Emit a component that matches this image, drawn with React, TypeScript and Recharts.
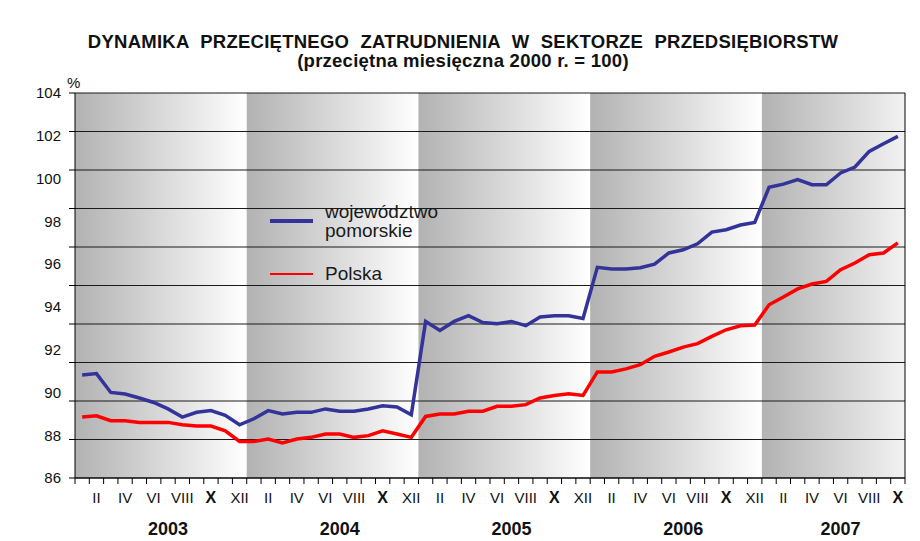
import React from 'react';
import { LineChart, Line, XAxis, YAxis, ReferenceArea, ReferenceLine, Legend } from 'recharts';

const FONT = '"Liberation Sans", Arial, sans-serif';

const years = ['2003', '2004', '2005', '2006', '2007'];
const monthsInYear = [12, 12, 12, 12, 10];
const romans = ['I', 'II', 'III', 'IV', 'V', 'VI', 'VII', 'VIII', 'IX', 'X', 'XI', 'XII'];

// województwo pomorskie, 2003 I .. 2007 X
const pomorskie = [
  90.82, 90.88, 90.0, 89.93, 89.74, 89.53, 89.23, 88.85, 89.07, 89.15, 88.93, 88.49,
  88.77, 89.15, 88.99, 89.07, 89.07, 89.23, 89.12, 89.12, 89.23, 89.38, 89.32, 88.96,
  93.32, 92.9, 93.32, 93.59, 93.27, 93.21, 93.32, 93.12, 93.53, 93.59, 93.59, 93.46,
  95.85, 95.77, 95.77, 95.83, 96.0, 96.52, 96.67, 96.95, 97.5, 97.61, 97.83, 97.95,
  99.59, 99.74, 99.95, 99.71, 99.71, 100.26, 100.54, 101.27, 101.63, 101.97,
];

// Polska
const polska = [
  88.85, 88.91, 88.68, 88.68, 88.6, 88.6, 88.6, 88.49, 88.43, 88.43, 88.21, 87.71,
  87.71, 87.82, 87.64, 87.82, 87.9, 88.06, 88.06, 87.9, 87.98, 88.21, 88.06, 87.9,
  88.88, 88.99, 88.99, 89.12, 89.12, 89.35, 89.35, 89.43, 89.74, 89.86, 89.94, 89.86,
  90.96, 90.96, 91.1, 91.3, 91.69, 91.89, 92.12, 92.28, 92.62, 92.93, 93.12, 93.15,
  94.1, 94.46, 94.84, 95.07, 95.19, 95.74, 96.05, 96.44, 96.52, 96.99,
];

// tick labels and grid lines don't line up in the original, so two scales on the same domain
const yLabels = [86, 88, 90, 92, 94, 96, 98, 100, 102, 104];
const gridTicks = [86, 87.8, 89.6, 91.4, 93.2, 95, 96.8, 98.6, 100.4, 102.2, 104];

type Row = { i: number; month: string; year: string; pom: number; pl: number };

const rows: Row[] = [];
years.forEach((year, y) => {
  for (let m = 0; m < monthsInYear[y]; m++) {
    const i = rows.length;
    rows.push({ i, month: romans[m], year, pom: pomorskie[i], pl: polska[i] });
  }
});

const n = rows.length;
const boundaryTicks = Array.from({ length: n + 1 }, (_, k) => k - 0.5);
const monthLabelTicks = rows.filter((r) => romans.indexOf(r.month) % 2 === 1).map((r) => r.i);

const yearSpans = years.map((year, y) => {
  const start = rows.findIndex((r) => r.year === year);
  const count = monthsInYear[y];
  return { year, start, end: start + count - 1, mid: start + Math.floor(count / 2), full: count === 12 };
});
const yearTicks = yearSpans.map((s) => s.mid);

const MonthTick = (props: any) => {
  const { x, y, payload } = props;
  const row = rows[payload.value];
  if (!row) return null;
  const bold = row.month === 'X';
  return (
    <text x={x} y={y} dy="0.71em" textAnchor="middle" fontSize={bold ? 16 : 15}
      fontWeight={bold ? 700 : 400} fill="#111" fontFamily={FONT}>
      {row.month}
    </text>
  );
};

const YearTick = (props: any) => {
  const { x, y, payload } = props;
  const row = rows[payload.value];
  if (!row) return null;
  return (
    <text x={x} y={y} dy="0.71em" textAnchor="middle" fontSize={18} fontWeight={700}
      fill="#111" fontFamily={FONT}>
      {row.year}
    </text>
  );
};

const LegendBox = () => (
  <div style={{ fontFamily: FONT, fontSize: 19, color: '#1a1a1a', lineHeight: '19px' }}>
    <div style={{ display: 'flex', alignItems: 'center' }}>
      <div style={{ width: 43, height: 4, background: '#333399', marginRight: 12 }} />
      <div>województwo<br />pomorskie</div>
    </div>
    <div style={{ display: 'flex', alignItems: 'center', marginTop: 24 }}>
      <div style={{ width: 43, height: 2, background: '#ff0000', marginRight: 12 }} />
      <div>Polska</div>
    </div>
  </div>
);

export default function App() {
  return (
    <div style={{ position: 'absolute', left: 0, top: 0, width: 920, height: 541, background: '#fff' }}>
      <div style={{ position: 'absolute', left: 0, top: 32, width: 926, textAlign: 'center',
        fontFamily: FONT, fontWeight: 700, fontSize: 18.5, lineHeight: '19px', color: '#111',
        letterSpacing: 0.25 }}>
        <div style={{ wordSpacing: 6 }}>DYNAMIKA PRZECIĘTNEGO ZATRUDNIENIA W SEKTORZE PRZEDSIĘBIORSTW</div>
        <div>(przeciętna miesięczna 2000 r. = 100)</div>
      </div>
      <div style={{ position: 'absolute', left: 67, top: 74, fontFamily: FONT, fontSize: 15, color: '#111' }}>%</div>
      <LineChart width={920} height={541} data={rows} margin={{ top: 93, right: 15, bottom: 0, left: 28 }}>
        <defs>
          <linearGradient id="bandFull" x1="0" y1="0" x2="1" y2="0">
            <stop offset="0%" stopColor="#b2b2b2" />
            <stop offset="100%" stopColor="#ffffff" />
          </linearGradient>
          <linearGradient id="bandPart" x1="0" y1="0" x2="1" y2="0">
            <stop offset="0%" stopColor="#b2b2b2" />
            <stop offset="100%" stopColor="#f2f2f2" />
          </linearGradient>
        </defs>
        <XAxis xAxisId={0} type="number" dataKey="i" domain={[-0.5, n - 0.5]} ticks={boundaryTicks}
          interval={0} tickFormatter={() => ''} height={6} tickSize={6} stroke="#000"
          tickLine={{ stroke: '#000' }} axisLine={{ stroke: '#000' }} />
        <XAxis xAxisId="m" type="number" dataKey="i" domain={[-0.5, n - 0.5]} ticks={monthLabelTicks}
          interval={0} tick={<MonthTick />} height={30} tickSize={0} tickMargin={8}
          axisLine={false} tickLine={false} />
        <XAxis xAxisId="y" type="number" dataKey="i" domain={[-0.5, n - 0.5]} ticks={yearTicks}
          interval={0} tick={<YearTick />} height={27} tickSize={0} tickMargin={8}
          axisLine={false} tickLine={false} />
        <YAxis yAxisId={0} type="number" domain={[86, 104]} ticks={gridTicks} interval={0}
          tickFormatter={() => ''} width={7} tickSize={6} tickLine={{ stroke: '#000' }}
          axisLine={{ stroke: '#000' }} />
        <YAxis yAxisId="lbl" type="number" domain={[86, 104]} ticks={yLabels} interval={0}
          width={40} tickSize={0} tickMargin={7} axisLine={false} tickLine={false}
          tick={{ fontSize: 15, fill: '#111', fontFamily: FONT }} />
        {yearSpans.map((s) => (
          <ReferenceArea key={s.year} xAxisId={0} yAxisId={0} x1={s.start - 0.5} x2={s.end + 0.5}
            fill={s.full ? 'url(#bandFull)' : 'url(#bandPart)'} fillOpacity={1} stroke="none" />
        ))}
        {gridTicks.map((v) => (
          <ReferenceLine key={v} xAxisId={0} yAxisId={0} y={v} stroke="#1a1a1a" strokeWidth={1} />
        ))}
        <ReferenceLine xAxisId={0} yAxisId={0} x={n - 0.5} stroke="#000" strokeWidth={1} />
        <Legend layout="horizontal" verticalAlign="middle" align="center" content={<LegendBox />}
          wrapperStyle={{ left: 270, top: 202, width: 'auto' }} />
        <Line xAxisId={0} yAxisId="lbl" type="linear" dataKey="pl" stroke="#ff0000" strokeWidth={3.5}
          dot={false} isAnimationActive={false} />
        <Line xAxisId={0} yAxisId={0} type="linear" dataKey="pom" stroke="#333399" strokeWidth={3.5}
          dot={false} isAnimationActive={false} />
      </LineChart>
    </div>
  );
}
